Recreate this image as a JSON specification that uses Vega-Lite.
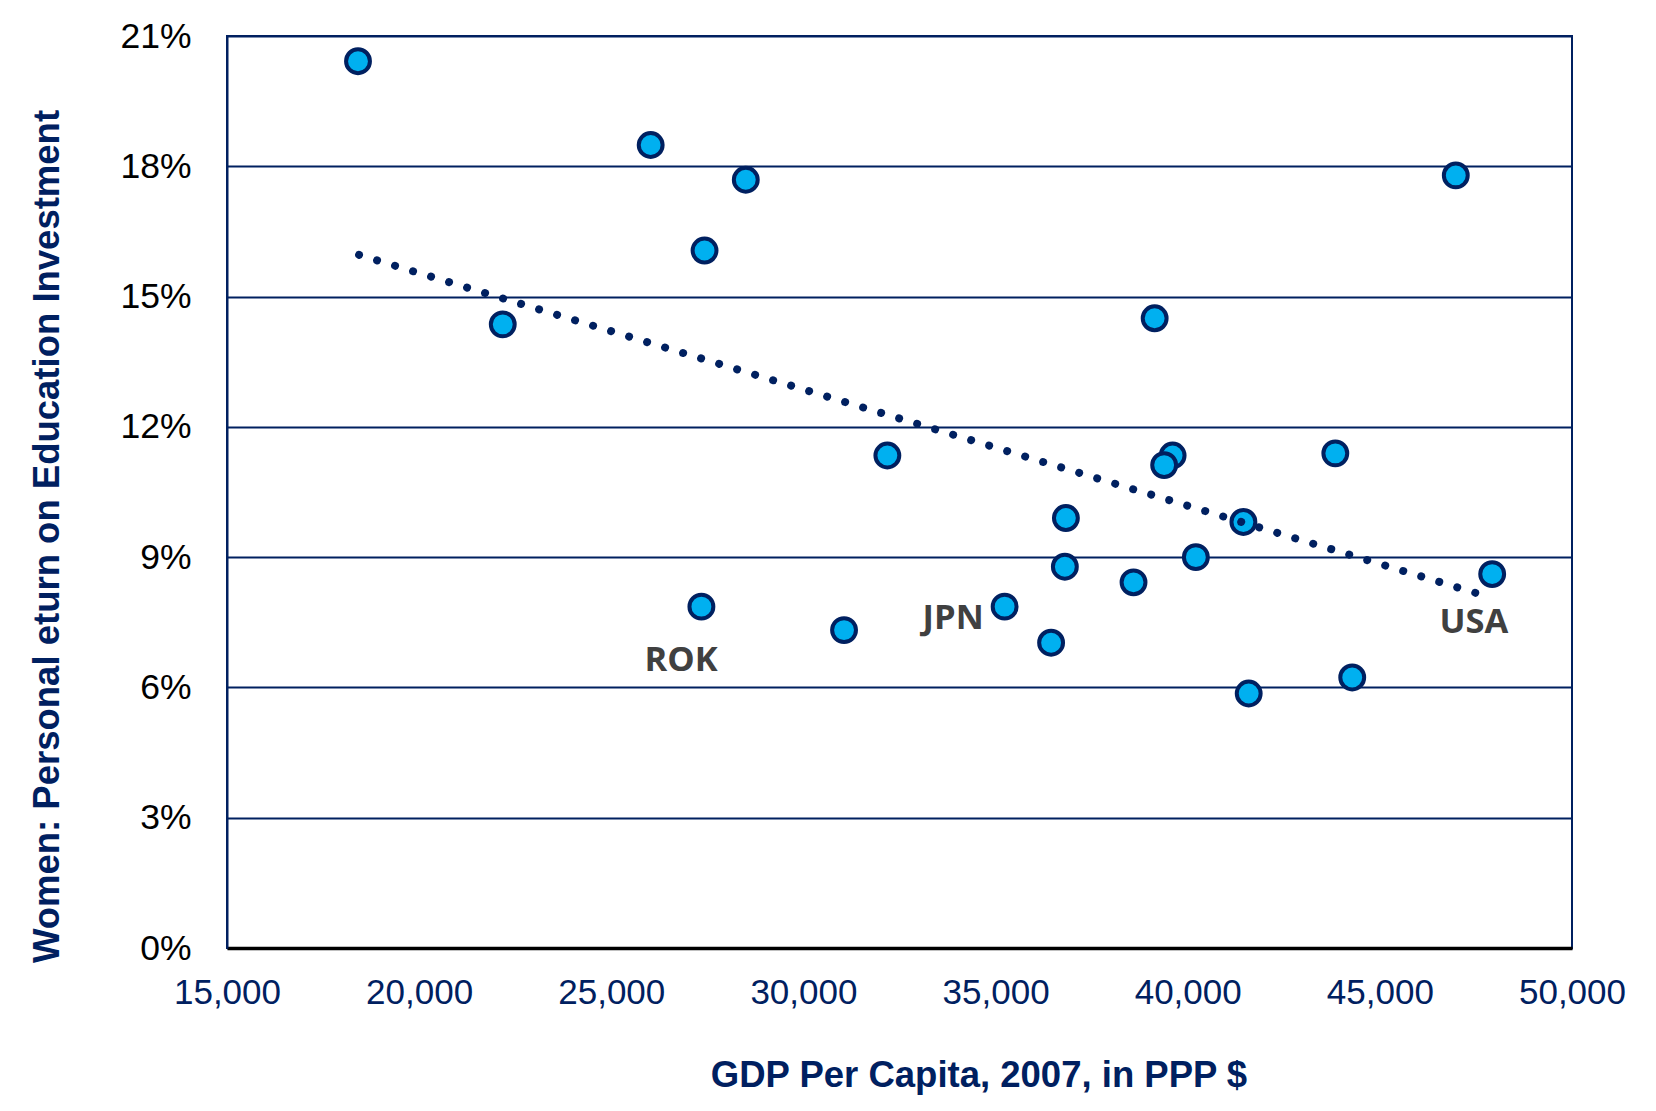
{
  "$schema": "https://vega.github.io/schema/vega-lite/v6.json",
  "width": 1345,
  "height": 912,
  "autosize": {"type": "none"},
  "padding": {"left": 227, "top": 36, "right": 85, "bottom": 163},
  "background": "white",
  "config": {
    "view": {"stroke": "#002060", "strokeWidth": 2},
    "font": "Liberation Sans"
  },
  "datasets": {
    "points": [
      {"gdp": 18409, "ret": 0.2042},
      {"gdp": 26025, "ret": 0.1849},
      {"gdp": 28500, "ret": 0.1769},
      {"gdp": 27427, "ret": 0.1606},
      {"gdp": 22176, "ret": 0.1436},
      {"gdp": 46976, "ret": 0.1779},
      {"gdp": 39140, "ret": 0.1450},
      {"gdp": 32184, "ret": 0.1134},
      {"gdp": 39607, "ret": 0.1134},
      {"gdp": 39387, "ret": 0.1112},
      {"gdp": 43841, "ret": 0.1139},
      {"gdp": 36830, "ret": 0.0990},
      {"gdp": 41449, "ret": 0.0981},
      {"gdp": 40212, "ret": 0.0900},
      {"gdp": 36803, "ret": 0.0878},
      {"gdp": 38590, "ret": 0.0842},
      {"gdp": 47923, "ret": 0.0861},
      {"gdp": 27345, "ret": 0.0786},
      {"gdp": 35236, "ret": 0.0786},
      {"gdp": 31057, "ret": 0.0732},
      {"gdp": 36445, "ret": 0.0703},
      {"gdp": 44281, "ret": 0.0623},
      {"gdp": 41587, "ret": 0.0586}
    ],
    "trend": [
      {"gdp": 18436, "ret": 0.1596},
      {"gdp": 47853, "ret": 0.0808}
    ],
    "labels": [
      {"gdp": 26817, "ret": 0.0662, "name": "ROK"},
      {"gdp": 33897, "ret": 0.0757, "name": "JPN"},
      {"gdp": 47449, "ret": 0.0748, "name": "USA"}
    ]
  },
  "layer": [
    {
      "data": {"name": "points"},
      "mark": {"type": "point", "shape": "circle", "filled": true, "fill": "#00B0F0", "stroke": "#002060", "strokeWidth": 4, "size": 570, "opacity": 1, "fillOpacity": 1, "strokeOpacity": 1},
      "encoding": {
        "x": {
          "field": "gdp", "type": "quantitative",
          "scale": {"domain": [15000, 50000], "nice": false, "zero": false},
          "axis": {
            "values": [15000, 20000, 25000, 30000, 35000, 40000, 45000, 50000],
            "format": ",d",
            "grid": false,
            "ticks": false,
            "tickSize": 0,
            "domainColor": "#000000",
            "domainWidth": 3.5,
            "labelFont": "Liberation Sans",
            "labelFontSize": 35,
            "labelColor": "#002060",
            "labelPadding": 27,
            "labelFlush": false,
            "labelOverlap": false,
            "title": "GDP Per Capita, 2007, in PPP $",
            "titleFont": "Liberation Sans",
            "titleFontSize": 36.5,
            "titleFontWeight": "bold",
            "titleColor": "#002060",
            "titleX": 751.5,
            "titleY": 127,
            "titleAlign": "center",
            "titleBaseline": "middle"
          }
        },
        "y": {
          "field": "ret", "type": "quantitative",
          "scale": {"domain": [0, 0.21], "nice": false, "zero": true},
          "axis": {
            "values": [0, 0.03, 0.06, 0.09, 0.12, 0.15, 0.18, 0.21],
            "format": ".0%",
            "grid": true,
            "gridColor": "#002060",
            "gridWidth": 1.8,
            "gridOpacity": 1,
            "ticks": false,
            "tickSize": 0,
            "domainColor": "#002060",
            "domainWidth": 2,
            "labelFont": "Liberation Sans",
            "labelFontSize": 35.5,
            "labelColor": "#000000",
            "labelPadding": 36,
            "labelOverlap": false,
            "labelFlush": false,
            "title": "Women: Personal eturn on Education Investment",
            "titleFont": "Liberation Sans",
            "titleFontSize": 36.5,
            "titleFontWeight": "bold",
            "titleColor": "#002060",
            "titleAngle": -90,
            "titleX": -179.5,
            "titleY": 500,
            "titleAlign": "center",
            "titleBaseline": "middle"
          }
        }
      }
    },
    {
      "data": {"name": "trend"},
      "mark": {"type": "line", "color": "#002060", "strokeWidth": 8, "strokeDash": [0.01, 18.8], "strokeCap": "round"},
      "encoding": {
        "x": {"field": "gdp", "type": "quantitative"},
        "y": {"field": "ret", "type": "quantitative"}
      }
    },
    {
      "data": {"name": "labels"},
      "mark": {"type": "text", "font": "Open Sans", "fontWeight": "bold", "fontSize": 34.5, "color": "#404040", "align": "center", "baseline": "middle"},
      "encoding": {
        "x": {"field": "gdp", "type": "quantitative"},
        "y": {"field": "ret", "type": "quantitative"},
        "text": {"field": "name", "type": "nominal"}
      }
    }
  ]
}
